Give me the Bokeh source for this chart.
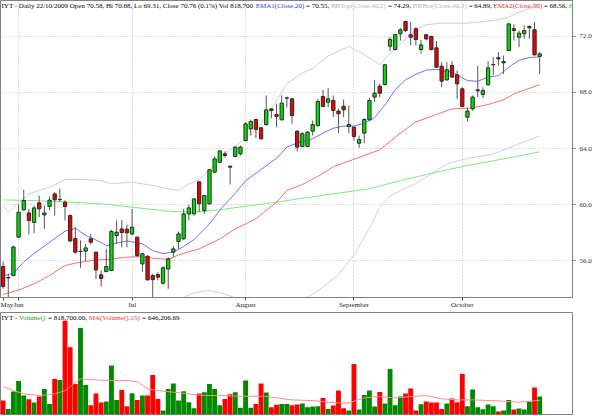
from bokeh.plotting import figure
from bokeh.models import Range1d, FixedTicker, Label, NumeralTickFormatter, ColumnDataSource
from bokeh.layouts import column
from bokeh.embed import file_html
from bokeh.resources import INLINE

# ---------------- data (IYT daily, 27 May 2009 .. 22 Oct 2009) ----------------
opens = [55.57, 54.76, 54.93, 57.67, 59.62, 59.40, 58.72, 60.12, 59.26, 59.86,
         60.76, 60.34, 60.17, 59.21, 57.57, 56.64, 56.67, 57.55, 56.60, 54.98,
         55.21, 55.29, 57.79, 58.26, 58.24, 57.90, 57.67, 55.76, 56.31, 54.93,
         55.00, 54.38, 55.40, 56.60, 57.36, 57.55, 59.33, 59.33, 61.62, 59.57,
         60.05, 62.31, 63.02, 63.62, 62.74, 63.43, 63.62, 64.57, 65.40, 66.07,
         65.48, 65.71, 66.83, 66.43, 66.05, 67.60, 67.55, 65.24, 64.14, 64.14,
         65.24, 65.64, 67.71, 67.31, 67.43, 66.67, 67.02, 65.57, 65.52, 64.38,
         65.10, 66.05, 67.67, 68.45, 68.57, 71.31, 71.07, 72.19, 73.07, 72.12,
         72.55, 71.07, 72.12, 72.00, 71.19, 69.88, 68.90, 69.93, 69.26, 68.26,
         66.24, 66.83, 68.12, 67.86, 68.55, 69.98, 70.48, 70.12, 71.00, 72.55,
         71.95, 72.19, 72.62, 72.48, 70.58]
highs = [55.93, 55.05, 57.05, 60.00, 61.05, 59.69, 59.93, 60.64, 59.93, 60.57,
         60.88, 61.12, 60.30, 59.30, 58.38, 57.43, 57.19, 57.90, 56.62, 55.29,
         56.83, 58.19, 58.86, 58.90, 58.57, 59.69, 57.72, 56.55, 56.36, 55.05,
         55.17, 55.60, 56.24, 57.02, 58.07, 59.69, 59.98, 60.45, 61.62, 60.69,
         62.55, 63.43, 63.86, 63.80, 62.76, 64.14, 64.21, 65.88, 66.07, 66.12,
         65.52, 67.79, 66.90, 67.19, 67.79, 67.71, 67.60, 65.29, 65.17, 65.24,
         66.00, 67.55, 68.19, 68.31, 67.79, 66.83, 67.50, 67.07, 65.57, 64.93,
         66.17, 67.62, 68.90, 68.62, 70.05, 71.95, 72.19, 72.60, 73.14, 73.02,
         72.67, 71.76, 72.19, 72.07, 71.67, 70.17, 70.17, 70.24, 69.57, 68.38,
         66.90, 67.79, 69.90, 68.38, 70.24, 70.52, 70.88, 70.64, 72.95, 72.86,
         72.43, 72.79, 72.79, 73.02, 70.88]
lows = [53.98, 53.38, 54.88, 57.60, 59.58, 57.86, 57.95, 59.10, 58.26, 59.57,
        59.21, 60.21, 58.86, 57.30, 56.48, 55.48, 55.95, 57.14, 54.69, 54.14,
        55.17, 55.24, 57.19, 56.95, 56.95, 57.79, 56.24, 55.17, 54.57, 53.31,
        54.57, 54.29, 53.98, 56.24, 56.83, 57.48, 58.86, 59.21, 59.45, 59.33,
        60.00, 62.26, 62.95, 63.35, 61.43, 63.38, 63.50, 64.52, 64.93, 64.74,
        64.64, 65.64, 66.17, 65.52, 66.00, 66.95, 65.76, 63.79, 64.10, 64.10,
        64.93, 65.57, 66.95, 66.95, 66.24, 65.10, 66.24, 65.10, 64.57, 64.05,
        64.38, 66.00, 67.31, 67.67, 68.50, 70.95, 71.00, 71.70, 72.31, 71.36,
        71.36, 70.76, 71.71, 71.00, 69.76, 68.38, 68.86, 69.05, 67.55, 66.95,
        65.93, 66.71, 67.67, 67.62, 68.50, 69.26, 69.93, 69.33, 70.95, 71.71,
        71.24, 71.83, 71.83, 70.64, 69.31]
closes = [54.14, 54.78, 56.97, 59.45, 60.29, 58.86, 59.76, 59.69, 59.40, 60.31,
          60.34, 60.36, 59.86, 57.40, 56.60, 56.66, 56.90, 57.31, 55.33, 54.72,
          55.57, 58.07, 58.02, 58.00, 57.98, 58.38, 56.36, 56.48, 54.62, 54.64,
          54.81, 55.48, 56.12, 56.83, 57.90, 59.33, 59.76, 60.40, 60.05, 60.64,
          62.48, 63.26, 63.83, 63.50, 62.67, 64.10, 64.10, 65.76, 65.93, 65.36,
          64.69, 66.76, 66.71, 66.29, 67.24, 67.62, 66.36, 64.10, 65.05, 65.17,
          65.71, 67.36, 67.00, 67.55, 66.71, 66.48, 66.76, 65.71, 64.86, 64.64,
          66.07, 67.43, 67.95, 67.95, 69.98, 71.79, 72.14, 72.48, 72.43, 71.95,
          71.79, 71.40, 71.83, 71.07, 69.81, 68.81, 69.62, 69.10, 68.62, 67.00,
          66.67, 67.67, 68.19, 68.14, 69.76, 70.00, 70.40, 70.21, 72.90, 72.43,
          72.24, 72.43, 72.71, 70.69, 70.76]
volumes = [633000, 247000, 1051000, 1545000, 865000, 695000, 541000, 819000, 1174000, 479000,
           1638000, 1591000, 4341000, 3105000, 1406000, 4002000, 1360000, 417000, 958000, 541000,
           587000, 2256000, 664000, 1128000, 371000, 973000, 664000, 865000, 865000, 1823000,
           711000, 170000, 1174000, 1421000, 633000, 1066000, 556000, 278000, 958000, 1020000,
           1406000, 1174000, 417000, 711000, 927000, 1020000, 294000, 1560000, 294000, 479000,
           1421000, 1004000, 324000, 433000, 479000, 479000, 417000, 448000, 494000, 324000,
           355000, 371000, 757000, 247000, 402000, 1097000, 278000, 170000, 2333000, 216000,
           896000, 1097000, 355000, 1035000, 494000, 2101000, 417000, 819000, 958000, 1190000,
           170000, 464000, 587000, 541000, 541000, 247000, 494000, 726000, 556000, 1869000,
           371000, 1143000, 324000, 232000, 448000, 371000, 124000, 170000, 664000, 216000,
           263000, 216000, 572000, 1236000, 818700]

# indicator lines (bar index, value)
ema20_idx = [0, 2, 4, 6, 9, 12, 14, 16, 19, 20, 22, 24, 27, 29, 31, 33, 35, 37, 40, 42,
             45, 47, 50, 53, 55, 57, 60, 62, 64, 66, 68, 70, 72, 74, 76, 78, 80, 82, 84,
             87, 90, 92, 94, 96, 98, 100, 102, 104]
ema20_val = [54.9, 55.1, 55.9, 56.5, 57.3, 58.1, 58.3, 57.8, 57.3, 57.05, 57.25, 57.4, 57.2,
             56.7, 56.5, 56.6, 57.0, 57.5, 58.6, 59.6, 60.8, 61.7, 62.5, 63.3, 64.1, 64.4,
             64.7, 65.1, 65.45, 65.6, 65.6, 65.8, 66.2, 67.1, 68.2, 68.9, 69.3, 69.6, 69.65,
             69.45, 68.85, 68.8, 69.1, 69.2, 69.8, 70.3, 70.5, 70.55]
ema50_idx = [0, 3, 6, 9, 12, 14, 18, 20, 24, 27, 29, 32, 34, 38, 42, 45, 49, 53, 55, 58,
             61, 64, 67, 70, 73, 77, 80, 84, 87, 91, 94, 97, 99, 102, 104]
ema50_val = [53.57, 53.9, 54.33, 54.93, 55.64, 55.81, 56.05, 56.07, 56.24, 56.29, 56.17,
             56.07, 56.4, 56.83, 57.55, 58.26, 58.98, 60.17, 61.0, 61.43, 62.0, 62.7, 63.1,
             63.5, 63.9, 65.1, 65.9, 66.43, 66.83, 66.9, 67.14, 67.48, 67.9, 68.3, 68.56]
ema200_idx = [0, 6, 13, 19, 25, 32, 37, 42, 48, 53, 58, 64, 71, 77, 84, 90, 97, 104]
ema200_val = [60.33, 60.28, 60.17, 60.05, 59.81, 59.52, 59.45, 59.62, 59.93, 60.17, 60.45,
              60.76, 61.12, 61.71, 62.31, 62.79, 63.26, 63.76]
bbtop_idx = [0, 1, 5, 9, 12, 14, 19, 21, 25, 29, 32, 34, 36, 38, 43, 49, 52, 55, 58, 60,
             63, 67, 70, 73, 77, 80, 82, 85, 90, 95, 98, 100, 104]
bbtop_val = [59.93, 59.45, 60.76, 61.24, 61.76, 61.81, 61.71, 61.48, 61.6, 61.36, 61.12,
             61.0, 61.48, 61.76, 63.62, 65.29, 66.83, 68.62, 69.4, 69.7, 70.6, 71.3, 70.7,
             70.0, 71.5, 72.5, 72.85, 72.95, 72.95, 73.14, 73.38, 73.74, 74.29]
bbbot_idx = [0, 20, 30, 34, 37, 40, 43, 46, 50, 54, 58, 62, 65, 68, 71, 73, 75, 77, 80,
             83, 86, 90, 95, 99, 104]
bbbot_val = [51.5, 51.8, 52.6, 53.2, 53.7, 53.86, 53.6, 53.2, 52.8, 52.8, 53.14, 54.1, 55.0,
             56.4, 58.3, 59.8, 60.6, 61.0, 61.5, 62.2, 62.9, 63.3, 63.6, 64.2, 64.89]
volma_idx = [0, 2, 4, 7, 10, 12, 15, 18, 21, 24, 26, 28, 30, 33, 36, 39, 42, 46, 51, 52,
             56, 60, 63, 66, 67, 70, 73, 76, 79, 82, 85, 88, 91, 94, 97, 100, 104]
volma_val = [1282000, 1097000, 942000, 865000, 942000, 1097000, 1638000, 1591000, 1560000,
             1560000, 1514000, 1174000, 1097000, 1020000, 942000, 865000, 865000, 834000,
             834000, 788000, 664000, 633000, 556000, 510000, 525000, 757000, 819000, 757000,
             819000, 865000, 711000, 664000, 664000, 633000, 603000, 556000, 646207]

month_ticks = [0, 3, 25, 47, 68, 89]
month_labels = ["May", "Jun", "Jul", "August", "September", "October"]
price_ticks = [56, 60, 64, 68, 72]

price_title = [("IYT - Daily 22/10/2009 Open 70.58, Hi 70.88, Lo 69.31, Close 70.76 (0.1%) Vol 818,700 ", "#000000"),
               ("EMA1(Close,20)", "#3333ff"), (" = 70.55, ", "#000000"),
               ("BBTop(Close,40,2)", "#b4b4b4"), (" = 74.29, ", "#000000"),
               ("BBBot(Close,40,2)", "#b4b4b4"), (" = 64.89, ", "#000000"),
               ("EMA2(Close,50)", "#ff2020"), (" = 68.56, ", "#000000"),
               ("EMA3(Close,200) = 63.76", "#22dd22")]
vol_title = [("IYT - ", "#000000"), ("Volume()", "#229922"), (" = 818,700.00, ", "#000000"),
             ("MA(Volume(),15)", "#ff3030"), (" = 646,206.69", "#000000")]

# ---------------- helpers ----------------
FONT = "Liberation Serif"
FSIZE = 7
# Times-compatible advance widths (1/1000 em) used to chain coloured text pieces
_W = {" ": 250, "%": 833, "(": 333, ")": 333, ",": 250, "-": 333, ".": 250, "/": 278,
      "=": 564, "A": 722, "B": 667, "C": 667, "D": 722, "E": 611, "H": 722, "I": 333,
      "L": 611, "M": 889, "O": 722, "T": 611, "V": 722, "Y": 722, "a": 444, "b": 500,
      "c": 444, "e": 444, "i": 278, "l": 278, "m": 778, "n": 500, "o": 500, "p": 500,
      "r": 333, "s": 389, "t": 278, "u": 500, "y": 500}


def text_w(s):
    return sum(_W.get(ch, 500) for ch in s) * FSIZE / 1000.0


def add_title(fig, pieces, top):
    x = 1.0
    for text, col in pieces:
        lead = len(text) - len(text.lstrip(" "))
        fig.add_layout(Label(x=x + text_w(" " * lead), y=top, x_units="screen", y_units="data",
                             text=text.strip(" "), text_color=col, text_font=FONT,
                             text_font_size=f"{FSIZE}px", text_baseline="top", y_offset=-1))
        x += text_w(text)


n = len(closes)
idx = list(range(n))
up = [c >= o for o, c in zip(opens, closes)]
src = ColumnDataSource(dict(
    x=idx, o=opens, h=highs, l=lows, c=closes, v=volumes,
    top=[max(o, c) for o, c in zip(opens, closes)],
    bot=[min(o, c) for o, c in zip(opens, closes)],
    body=["#00e000" if u else "#ee0000" for u in up],
    vcol=["#008a00" if u else "#ff0000" for u in up],
))

x_range = Range1d(-0.504, 110.36)

# ---------------- price panel ----------------
p1 = figure(frame_width=572, frame_height=297, x_range=x_range, y_range=Range1d(53.36, 74.57),
            output_backend="svg", toolbar_location=None, y_axis_location="right",
            min_border_left=0, min_border_right=28, min_border_top=0, min_border_bottom=12)
p1.outline_line_color = "#808080"
p1.background_fill_color = "white"
p1.border_fill_color = "white"

p1.line(bbtop_idx, bbtop_val, color="#cfcfcf", line_width=1)
p1.line(bbbot_idx, bbbot_val, color="#cfcfcf", line_width=1)
p1.line(ema200_idx, ema200_val, color="#77ee77", line_width=1)
p1.line(ema50_idx, ema50_val, color="#ff6a6a", line_width=1)
p1.line(ema20_idx, ema20_val, color="#6f6fff", line_width=1)

p1.segment(x0="x", y0="l", x1="x", y1="h", source=src, color="#555555", line_width=1)
p1.vbar(x="x", width=0.64, top="top", bottom="bot", source=src,
        fill_color="body", line_color="#2a2a2a", line_width=1)

yax = p1.yaxis[0]
yax.ticker = FixedTicker(ticks=price_ticks)
yax.formatter = NumeralTickFormatter(format="0.0")
yax.major_label_text_font = FONT
yax.major_label_text_font_size = f"{FSIZE}px"
yax.major_label_text_color = "#333333"
yax.axis_line_color = "#808080"
yax.major_tick_line_color = "#808080"
yax.major_tick_out = 3
yax.major_tick_in = 0
yax.minor_tick_line_color = None
yax.major_label_standoff = 4

xax = p1.xaxis[0]
xax.ticker = FixedTicker(ticks=month_ticks)
xax.major_label_overrides = {t: s for t, s in zip(month_ticks, month_labels)}
xax.major_label_text_align = "left"
xax.major_label_text_font = FONT
xax.major_label_text_font_size = f"{FSIZE}px"
xax.major_label_text_color = "#222222"
xax.major_label_standoff = 0
xax.axis_line_color = "#808080"
xax.major_tick_line_color = "#555555"
xax.major_tick_out = 3
xax.major_tick_in = 0
xax.minor_tick_line_color = None

p1.xgrid.ticker = FixedTicker(ticks=month_ticks[1:])
p1.xgrid.grid_line_color = "#c0c0c0"
p1.xgrid.grid_line_dash = "1 2"
p1.ygrid.ticker = FixedTicker(ticks=price_ticks)
p1.ygrid.grid_line_color = "#c0c0c0"
p1.ygrid.grid_line_dash = "1 2"

add_title(p1, price_title, p1.y_range.end)

# ---------------- volume panel ----------------
p2 = figure(frame_width=572, frame_height=102, x_range=x_range, y_range=Range1d(-14000, 4720000),
            output_backend="svg", toolbar_location=None,
            x_axis_location=None, y_axis_location=None,
            min_border_left=0, min_border_right=28, min_border_top=1, min_border_bottom=1)
p2.outline_line_color = "#808080"
p2.xgrid.visible = False
p2.ygrid.visible = False
p2.vbar(x="x", width=0.94, top="v", bottom=0, source=src, fill_color="vcol", line_color=None)
p2.line(volma_idx, volma_val, color="#ff8a8a", line_width=1)

add_title(p2, vol_title, p2.y_range.end)

layout = column(p1, p2, spacing=0)

open("out.html", "w").write(file_html(layout, INLINE))
